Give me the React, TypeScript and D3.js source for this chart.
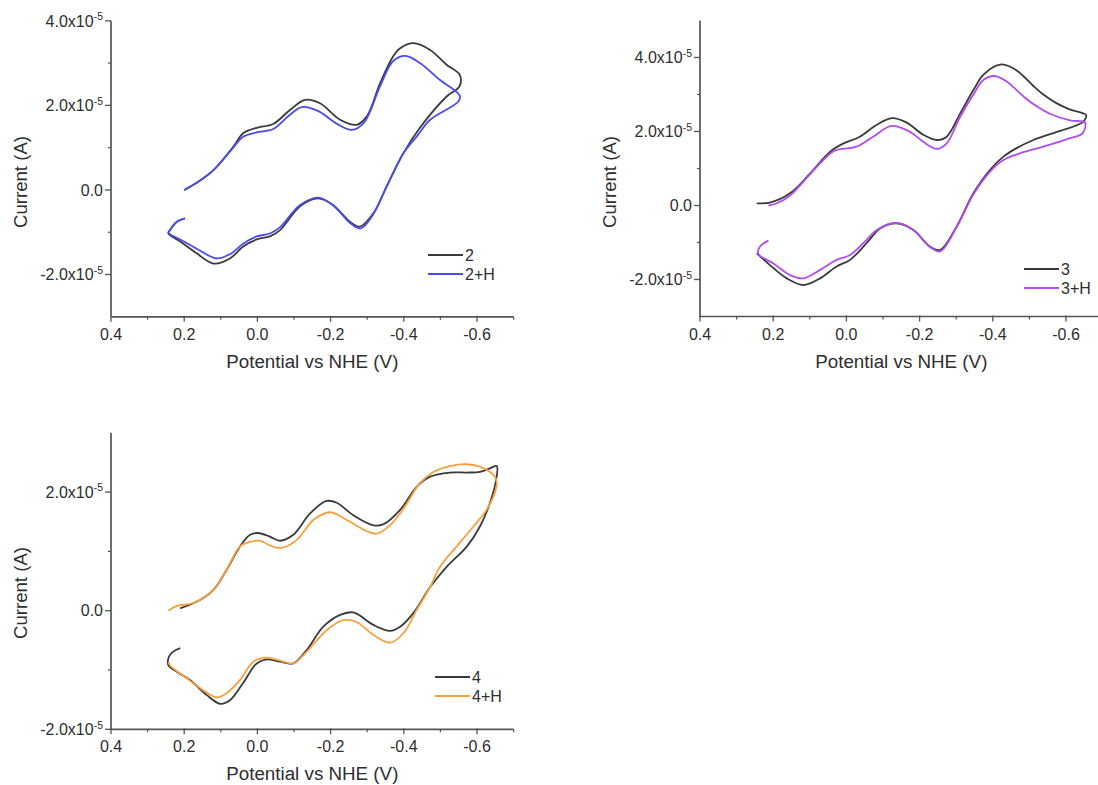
import React from "react";
import * as d3 from "d3";

// Current values are in units of 1e-5 A; potentials in V vs NHE
type Pt = [number, number];

const potentialTicks = [0.4, 0.2, 0.0, -0.2, -0.4, -0.6];
const potentialMinor = [0.3, 0.1, -0.1, -0.3, -0.5, -0.7];

const cv2: Pt[] = [
  [0.2, 0.0], [0.166, 0.17], [0.12, 0.47], [0.066, 1.02], [0.039, 1.34], [0.002, 1.47],
  [-0.043, 1.56], [-0.089, 1.89], [-0.13, 2.13], [-0.171, 2.05], [-0.226, 1.66], [-0.271, 1.54],
  [-0.299, 1.74], [-0.335, 2.52], [-0.371, 3.16], [-0.39, 3.35], [-0.426, 3.47], [-0.472, 3.31],
  [-0.517, 2.96], [-0.553, 2.72], [-0.552, 2.45], [-0.517, 2.21], [-0.444, 1.47], [-0.399, 0.87],
  [-0.353, 0.08], [-0.317, -0.55], [-0.28, -0.87], [-0.253, -0.75], [-0.207, -0.36], [-0.166, -0.2],
  [-0.116, -0.39], [-0.062, -0.95], [-0.034, -1.1], [0.002, -1.17], [0.039, -1.34], [0.075, -1.62],
  [0.12, -1.74], [0.166, -1.5], [0.211, -1.22], [0.243, -1.03], [0.239, -0.95], [0.22, -0.75], [0.198, -0.67],
];

const cv2H: Pt[] = [
  [0.2, 0.0], [0.166, 0.17], [0.12, 0.47], [0.066, 1.0], [0.039, 1.26], [0.002, 1.36],
  [-0.043, 1.44], [-0.085, 1.75], [-0.121, 1.96], [-0.165, 1.87], [-0.22, 1.55], [-0.258, 1.42],
  [-0.292, 1.6], [-0.335, 2.45], [-0.371, 3.05], [-0.405, 3.17], [-0.444, 3.0], [-0.499, 2.6],
  [-0.553, 2.23], [-0.549, 2.09], [-0.472, 1.66], [-0.435, 1.26], [-0.399, 0.87], [-0.353, 0.08],
  [-0.317, -0.57], [-0.282, -0.91], [-0.253, -0.78], [-0.207, -0.36], [-0.166, -0.18], [-0.116, -0.36],
  [-0.062, -0.88], [-0.034, -1.03], [0.002, -1.1], [0.039, -1.27], [0.075, -1.52], [0.111, -1.62],
  [0.166, -1.39], [0.211, -1.17], [0.243, -1.01], [0.239, -0.95], [0.22, -0.75], [0.198, -0.67],
];

const cv3: Pt[] = [
  [0.245, 0.06], [0.209, 0.08], [0.154, 0.33], [0.099, 0.87], [0.045, 1.45], [0.008, 1.68],
  [-0.037, 1.86], [-0.083, 2.18], [-0.124, 2.36], [-0.165, 2.24], [-0.21, 1.91], [-0.247, 1.77],
  [-0.274, 1.86], [-0.311, 2.49], [-0.347, 3.12], [-0.374, 3.53], [-0.42, 3.81], [-0.456, 3.71],
  [-0.483, 3.5], [-0.511, 3.23], [-0.538, 3.0], [-0.575, 2.76], [-0.61, 2.6], [-0.647, 2.49],
  [-0.655, 2.45], [-0.647, 2.26], [-0.575, 1.99],
  [-0.511, 1.77], [-0.465, 1.55], [-0.429, 1.32], [-0.392, 0.96], [-0.347, 0.33], [-0.301, -0.57],
  [-0.256, -1.2], [-0.228, -1.11], [-0.183, -0.66], [-0.137, -0.48], [-0.092, -0.62], [-0.055, -1.02],
  [-0.01, -1.47], [0.027, -1.65], [0.072, -1.97], [0.118, -2.15], [0.163, -1.97], [0.209, -1.61], [0.245, -1.29],
];

const cv3H: Pt[] = [
  [0.213, 0.0], [0.19, 0.06], [0.154, 0.27], [0.099, 0.85], [0.045, 1.4], [0.027, 1.5],
  [-0.028, 1.59], [-0.073, 1.86], [-0.124, 2.15], [-0.174, 1.99], [-0.21, 1.72], [-0.247, 1.53],
  [-0.274, 1.68], [-0.311, 2.4], [-0.347, 3.0], [-0.374, 3.39], [-0.405, 3.5], [-0.438, 3.35],
  [-0.465, 3.12], [-0.492, 2.88], [-0.52, 2.68], [-0.556, 2.48], [-0.611, 2.3], [-0.652, 2.24],
  [-0.645, 1.95], [-0.611, 1.82],
  [-0.538, 1.59], [-0.474, 1.41], [-0.429, 1.23], [-0.392, 0.91], [-0.347, 0.3], [-0.301, -0.59],
  [-0.256, -1.24], [-0.228, -1.12], [-0.183, -0.66], [-0.137, -0.47], [-0.083, -0.66], [-0.055, -0.93],
  [-0.01, -1.34], [0.027, -1.47], [0.072, -1.74], [0.118, -1.97], [0.154, -1.88], [0.2, -1.56],
  [0.241, -1.31], [0.236, -1.11], [0.213, -0.95],
];

const cv4: Pt[] = [
  [0.211, 0.04], [0.157, 0.18], [0.12, 0.35], [0.084, 0.69], [0.048, 1.08], [0.02, 1.28],
  [-0.002, 1.31], [-0.034, 1.25], [-0.062, 1.18], [-0.098, 1.28], [-0.144, 1.64], [-0.189, 1.85],
  [-0.217, 1.82], [-0.262, 1.61], [-0.317, 1.44], [-0.345, 1.46], [-0.39, 1.7], [-0.435, 2.09],
  [-0.472, 2.26], [-0.526, 2.33], [-0.572, 2.33], [-0.608, 2.34], [-0.635, 2.4], [-0.654, 2.44],
  [-0.652, 2.2], [-0.635, 1.81], [-0.608, 1.42], [-0.572, 1.08], [-0.517, 0.74], [-0.472, 0.4],
  [-0.426, -0.04], [-0.39, -0.27], [-0.362, -0.34], [-0.317, -0.24], [-0.262, -0.03], [-0.226, -0.07],
  [-0.18, -0.27], [-0.135, -0.66], [-0.098, -0.89], [-0.062, -0.86], [-0.025, -0.82], [0.002, -0.89],
  [0.039, -1.22], [0.075, -1.51], [0.102, -1.57], [0.139, -1.42], [0.184, -1.17], [0.22, -1.03],
  [0.243, -0.92], [0.242, -0.78], [0.23, -0.69], [0.211, -0.63],
];

const cv4H: Pt[] = [
  [0.243, 0.0], [0.22, 0.08], [0.175, 0.13], [0.12, 0.35], [0.084, 0.69], [0.048, 1.08],
  [0.02, 1.16], [-0.004, 1.18], [-0.043, 1.08], [-0.066, 1.06], [-0.107, 1.19], [-0.153, 1.53],
  [-0.198, 1.66], [-0.244, 1.53], [-0.299, 1.34], [-0.326, 1.3], [-0.362, 1.44], [-0.399, 1.72],
  [-0.444, 2.15], [-0.481, 2.34], [-0.526, 2.44], [-0.572, 2.47], [-0.608, 2.43], [-0.645, 2.29],
  [-0.654, 2.17], [-0.65, 2.01], [-0.626, 1.7], [-0.59, 1.42], [-0.544, 1.08], [-0.499, 0.74],
  [-0.472, 0.4], [-0.435, 0.01], [-0.399, -0.38], [-0.362, -0.54], [-0.317, -0.41], [-0.271, -0.19],
  [-0.235, -0.16], [-0.189, -0.33], [-0.135, -0.69], [-0.098, -0.89], [-0.062, -0.84], [-0.025, -0.79],
  [0.011, -0.86], [0.048, -1.17], [0.084, -1.39], [0.111, -1.46], [0.148, -1.34], [0.193, -1.14],
  [0.239, -0.92], [0.243, -0.86],
];

const FONT = "'Liberation Sans', Arial, Helvetica, sans-serif";
const AXIS_COLOR = "#555";
const TEXT_COLOR = "#2e2e2e";

type Series = { name: string; data: Pt[]; color: string };
type Panel = {
  left: number; right: number; top: number; bottom: number;
  yDomain: [number, number]; yTicks: number[]; yMinor: number[];
  series: Series[]; legendX: number; legendY: number; yTitle: [number, number];
};

const panels: Panel[] = [
  {
    left: 111, right: 513.6, top: 20.8, bottom: 316.8, yDomain: [-3, 4],
    yTicks: [4, 2, 0, -2], yMinor: [3, 1, -1],
    series: [
      { name: "2", data: cv2, color: "#3a3a3a" },
      { name: "2+H", data: cv2H, color: "#4b4bf5" },
    ],
    legendX: 428, legendY: 255, yTitle: [27, 182],
  },
  {
    left: 700, right: 1102.6, top: 20.5, bottom: 316.5, yDomain: [-3, 5],
    yTicks: [4, 2, 0, -2], yMinor: [3, 1, -1],
    series: [
      { name: "3", data: cv3, color: "#3a3a3a" },
      { name: "3+H", data: cv3H, color: "#b04cf2" },
    ],
    legendX: 1024, legendY: 269, yTitle: [616, 182],
  },
  {
    left: 111, right: 513.6, top: 432.8, bottom: 729.3, yDomain: [-2, 3],
    yTicks: [2, 0, -2], yMinor: [1, -1],
    series: [
      { name: "4", data: cv4, color: "#3a3a3a" },
      { name: "4+H", data: cv4H, color: "#f7a040" },
    ],
    legendX: 435, legendY: 677, yTitle: [27, 593],
  },
];

function YLabel({ v, x, y }: { v: number; x: number; y: number }) {
  if (v === 0) {
    return (
      <text x={x} y={y} dy="0.36em" textAnchor="end" fontSize={16} fill={TEXT_COLOR} fontFamily={FONT}>0.0</text>
    );
  }
  return (
    <text x={x} y={y} dy="0.36em" textAnchor="end" fontSize={16} fill={TEXT_COLOR} fontFamily={FONT}>
      {v.toFixed(1) + "x10"}
      <tspan dy={-6.5} fontSize={10.5}>-5</tspan>
    </text>
  );
}

function PanelView({ p }: { p: Panel }) {
  const x = d3.scaleLinear().domain([0.4, -0.7]).range([p.left, p.right]);
  const y = d3.scaleLinear().domain(p.yDomain).range([p.bottom, p.top]);
  const line = d3
    .line<Pt>()
    .x((d) => x(d[0]))
    .y((d) => y(d[1]))
    .curve(d3.curveCatmullRom.alpha(0.5));
  return (
    <g>
      {p.series.map((s) => (
        <path key={s.name} d={line(s.data) || ""} fill="none" stroke={s.color} strokeWidth={1.8} strokeLinejoin="round" />
      ))}
      <line x1={p.left} x2={p.left} y1={p.top} y2={p.bottom} stroke={AXIS_COLOR} strokeWidth={1.7} />
      <line x1={p.left} x2={p.right} y1={p.bottom} y2={p.bottom} stroke={AXIS_COLOR} strokeWidth={1.7} />
      {p.yTicks.map((v) => (
        <g key={"yt" + v}>
          <line x1={p.left - 6} x2={p.left} y1={y(v)} y2={y(v)} stroke={AXIS_COLOR} strokeWidth={1.3} />
          <YLabel v={v} x={p.left - 8} y={y(v)} />
        </g>
      ))}
      {p.yMinor.map((v) => (
        <line key={"ym" + v} x1={p.left - 3} x2={p.left} y1={y(v)} y2={y(v)} stroke={AXIS_COLOR} strokeWidth={1.2} />
      ))}
      {potentialTicks.map((v) => (
        <g key={"xt" + v}>
          <line x1={x(v)} x2={x(v)} y1={p.bottom - 1} y2={p.bottom + 5} stroke={AXIS_COLOR} strokeWidth={1.3} />
          <text x={x(v)} y={p.bottom + 23} textAnchor="middle" fontSize={16} fill={TEXT_COLOR} fontFamily={FONT}>
            {v.toFixed(1)}
          </text>
        </g>
      ))}
      {potentialMinor.map((v) => (
        <line key={"xm" + v} x1={x(v)} x2={x(v)} y1={p.bottom} y2={p.bottom + 3} stroke={AXIS_COLOR} strokeWidth={1.2} />
      ))}
      <text x={(p.left + p.right) / 2} y={p.bottom + 51} textAnchor="middle" fontSize={18.8} fill={TEXT_COLOR} fontFamily={FONT}>
        Potential vs NHE (V)
      </text>
      <text
        transform={`translate(${p.yTitle[0]},${p.yTitle[1]}) rotate(-90)`}
        textAnchor="middle" fontSize={18.6} fill={TEXT_COLOR} fontFamily={FONT}
      >
        Current (A)
      </text>
      {p.series.map((s, i) => (
        <g key={"lg" + s.name}>
          <line x1={p.legendX} x2={p.legendX + 35} y1={p.legendY + i * 19} y2={p.legendY + i * 19} stroke={s.color} strokeWidth={1.8} />
          <text x={p.legendX + 37} y={p.legendY + i * 19} dy="0.36em" fontSize={16} fill={TEXT_COLOR} fontFamily={FONT}>
            {s.name}
          </text>
        </g>
      ))}
    </g>
  );
}

export default function App() {
  return (
    <svg
      width={1098}
      height={785}
      style={{ position: "absolute", left: 0, top: 0, background: "#fff", display: "block" }}
    >
      <rect x={0} y={0} width={1098} height={785} fill="#fff" />
      {panels.map((p, i) => (
        <PanelView key={i} p={p} />
      ))}
    </svg>
  );
}
